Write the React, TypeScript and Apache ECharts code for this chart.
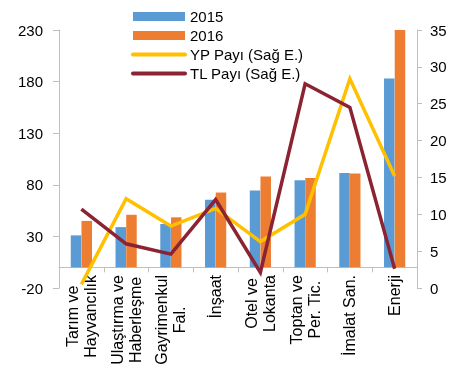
import React, { useEffect, useRef } from "react";
import * as echarts from "echarts";

const categories = [
  "Tarım ve\nHayvancılık",
  "Ulaştırma ve\nHaberleşme",
  "Gayrimenkul\nFal.",
  "İnşaat",
  "Otel ve\nLokanta",
  "Toptan ve\nPer. Tic.",
  "İmalat San.",
  "Enerji",
];
const values2015 = [31, 39, 42, 65.5, 74.5, 84.5, 91.5, 183];
const values2016 = [45, 51, 48.5, 72.5, 88, 86.5, 91, 230];
const ypPayi = [0.5, 12.1, 8.4, 10.8, 6.3, 10.0, 28.4, 15.2];
const tlPayi = [10.7, 6.0, 4.6, 12.0, 2.1, 27.7, 24.5, 2.6];
const seriesNames = ["2015", "2016", "YP Payı (Sağ E.)", "TL Payı (Sağ E.)"];

const FONT = "'Liberation Sans', Arial, sans-serif";
const AXIS_COLOR = "#BFBFBF";
const YP_COLOR = "#FFC000";
const TL_COLOR = "#8B2332";

export default function App() {
  const ref = useRef<HTMLDivElement>(null);
  useEffect(() => {
    if (!ref.current) return;
    const chart = echarts.init(ref.current, null, { renderer: "svg" });
    chart.setOption({
      animation: false,
      textStyle: { fontFamily: FONT, color: "#000" },
      legend: {
        orient: "vertical",
        left: 126,
        top: 3,
        itemWidth: 52,
        itemHeight: 9,
        itemGap: 2,
        textStyle: { fontFamily: FONT, fontSize: 15, color: "#000", lineHeight: 17 },
        data: [
          { name: seriesNames[0], icon: "rect" },
          { name: seriesNames[1], icon: "rect" },
          {
            name: seriesNames[2],
            itemStyle: { opacity: 0 },
            lineStyle: { width: 4, cap: "round", color: YP_COLOR },
          },
          {
            name: seriesNames[3],
            itemStyle: { opacity: 0 },
            lineStyle: { width: 4, cap: "round", color: TL_COLOR },
          },
        ],
      },
      grid: {
        left: 59,
        right: 45,
        top: 30,
        bottom: 77,
        containLabel: false,
        outerBoundsMode: "none",
      },
      xAxis: {
        type: "category",
        data: categories,
        axisLine: { show: true, onZero: true, lineStyle: { color: AXIS_COLOR, width: 1 } },
        axisTick: { show: true, length: 5, lineStyle: { color: AXIS_COLOR } },
        axisLabel: {
          rotate: 90,
          margin: -13,
          interval: 0,
          hideOverlap: false,
          formatter: (v: string) =>
            v
              .split("\n")
              .map((s) => "{c|" + s + "}")
              .join("\n"),
          rich: {
            c: { align: "center", fontSize: 16, lineHeight: 18, fontFamily: FONT, color: "#000" },
          },
        },
        splitLine: { show: false },
      },
      yAxis: [
        {
          type: "value",
          min: -20,
          max: 230,
          interval: 50,
          axisLine: { show: true, lineStyle: { color: AXIS_COLOR } },
          axisTick: { show: true, length: 6, lineStyle: { color: AXIS_COLOR } },
          axisLabel: { fontSize: 15, margin: 16, color: "#000", fontFamily: FONT },
          splitLine: { show: false },
        },
        {
          type: "value",
          min: 0,
          max: 35,
          interval: 5,
          position: "right",
          axisLine: { show: true, lineStyle: { color: AXIS_COLOR } },
          axisTick: { show: true, length: 5, lineStyle: { color: AXIS_COLOR } },
          axisLabel: { fontSize: 15, margin: 13, color: "#000", fontFamily: FONT },
          splitLine: { show: false },
        },
      ],
      series: [
        {
          name: seriesNames[0],
          type: "bar",
          data: values2015,
          barWidth: 10.5,
          barGap: "2%",
          itemStyle: { color: "#5B9BD5" },
        },
        {
          name: seriesNames[1],
          type: "bar",
          data: values2016,
          barWidth: 10.5,
          barGap: "2%",
          itemStyle: { color: "#ED7D31" },
        },
        {
          name: seriesNames[2],
          type: "line",
          yAxisIndex: 1,
          data: ypPayi,
          symbol: "none",
          lineStyle: { color: YP_COLOR, width: 3.5, join: "miter" },
          itemStyle: { color: YP_COLOR },
          z: 3,
        },
        {
          name: seriesNames[3],
          type: "line",
          yAxisIndex: 1,
          data: tlPayi,
          symbol: "none",
          lineStyle: { color: TL_COLOR, width: 3.5, join: "miter" },
          itemStyle: { color: TL_COLOR },
          z: 4,
        },
      ],
    });
    return () => chart.dispose();
  }, []);
  return (
    <div
      ref={ref}
      style={{ position: "fixed", left: 0, top: 0, width: 462, height: 365 }}
    />
  );
}
